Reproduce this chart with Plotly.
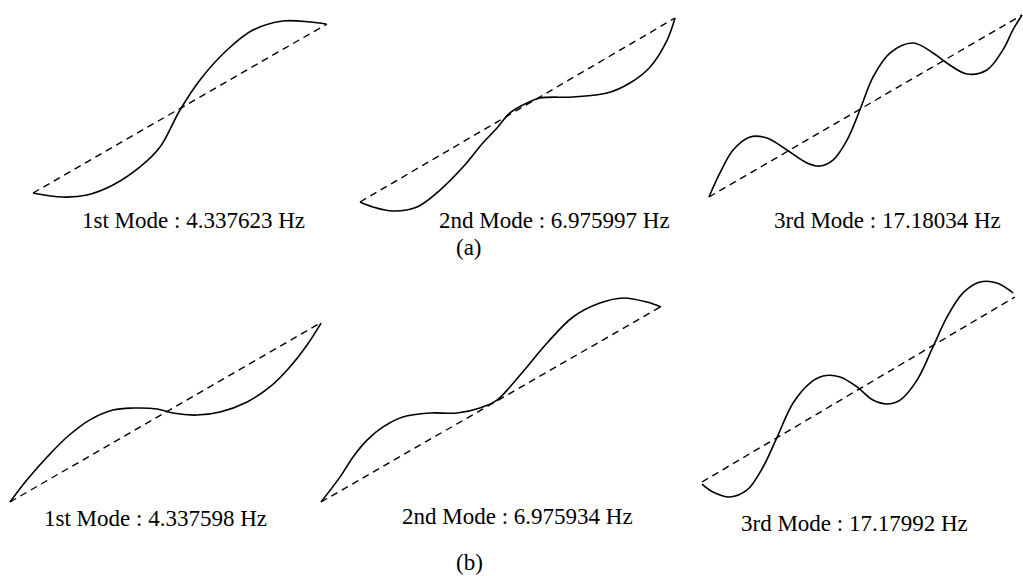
import plotly.graph_objects as go

W, H = 1023, 576

# ---- data: normalized mode shapes (position along beam 0..1, displacement) ----
# chord (dashed, undeformed) goes from (0,0) to (1,1) in each panel
chord_x = [0.0, 1.0]
chord_y = [0.0, 1.0]

a1_x = [0.0, 0.102, 0.184, 0.272, 0.364, 0.432, 0.5, 0.568, 0.66, 0.748, 0.85, 0.942, 0.997]
a1_y = [0.0, -0.024, -0.012, 0.047, 0.154, 0.272, 0.491, 0.669, 0.846, 0.964, 1.018, 1.012, 1.0]

a2_x = [0.0, 0.041, 0.105, 0.181, 0.254, 0.327, 0.390, 0.435, 0.476, 0.530, 0.571, 0.676, 0.784, 0.857, 0.921, 0.975, 1.0]
a2_y = [0.0, -0.027, -0.049, -0.027, 0.065, 0.190, 0.321, 0.402, 0.484, 0.538, 0.565, 0.571, 0.592, 0.647, 0.734, 0.880, 1.0]

a3_x = [0.0, 0.035, 0.077, 0.131, 0.185, 0.249, 0.313, 0.354, 0.396, 0.441, 0.482, 0.524, 0.578, 0.652, 0.716, 0.760, 0.824, 0.888, 0.939, 0.971, 1.0]
a3_y = [0.0, 0.132, 0.258, 0.330, 0.324, 0.258, 0.187, 0.170, 0.203, 0.313, 0.478, 0.659, 0.791, 0.846, 0.791, 0.736, 0.676, 0.698, 0.808, 0.918, 1.0]

b1_x = [0.0, 0.054, 0.119, 0.183, 0.256, 0.330, 0.394, 0.471, 0.522, 0.599, 0.673, 0.760, 0.833, 0.897, 0.952, 0.997]
b1_y = [0.0, 0.122, 0.250, 0.361, 0.456, 0.511, 0.522, 0.517, 0.494, 0.483, 0.500, 0.556, 0.639, 0.750, 0.872, 0.994]

b2_x = [0.0, 0.056, 0.094, 0.135, 0.182, 0.240, 0.320, 0.399, 0.466, 0.516, 0.554, 0.604, 0.663, 0.739, 0.818, 0.886, 0.956, 0.997]
b2_y = [0.0, 0.128, 0.230, 0.316, 0.383, 0.434, 0.454, 0.454, 0.480, 0.520, 0.587, 0.689, 0.811, 0.944, 1.015, 1.041, 1.020, 0.995]

b3_x = [0.0, 0.035, 0.089, 0.144, 0.195, 0.240, 0.291, 0.345, 0.387, 0.441, 0.495, 0.546, 0.591, 0.633, 0.687, 0.738, 0.783, 0.834, 0.888, 0.942, 0.994]
b3_y = [-0.011, -0.054, -0.081, -0.043, 0.081, 0.243, 0.427, 0.535, 0.573, 0.568, 0.514, 0.443, 0.422, 0.443, 0.551, 0.730, 0.892, 1.022, 1.081, 1.076, 1.022]

labels = [
    "1st Mode : 4.337623 Hz", "2nd Mode : 6.975997 Hz", "3rd Mode : 17.18034 Hz",
    "1st Mode : 4.337598 Hz", "2nd Mode : 6.975934 Hz", "3rd Mode : 17.17992 Hz",
]
group_labels = ["(a)", "(b)"]

# ---- layout: pixel frame of each panel's chord (x0, y0 bottom-left ; x1, y1 top-right) ----
frames = [
    (33, 193, 327, 24),
    (360, 202, 675, 18),
    (709, 197, 1022, 15),
    (10, 502, 322, 322),
    (321, 502, 662, 306),
    (702, 482, 1015, 297),
]
label_pos = [(193, 220), (554, 220), (887, 220), (155, 518), (517, 516), (854, 523)]
group_pos = [(469, 247), (469, 562)]

shapes = [(a1_x, a1_y), (a2_x, a2_y), (a3_x, a3_y), (b1_x, b1_y), (b2_x, b2_y), (b3_x, b3_y)]

fig = go.Figure()
layout_axes = {}
for i, ((sx, sy), (x0, y0, x1, y1)) in enumerate(zip(shapes, frames)):
    n = i + 1
    xa = "x" if n == 1 else f"x{n}"
    ya = "y" if n == 1 else f"y{n}"
    fig.add_trace(go.Scatter(x=chord_x, y=chord_y, mode="lines", xaxis=xa, yaxis=ya,
                             line=dict(color="black", width=1.4, dash="7px,5px"),
                             showlegend=False, hoverinfo="skip"))
    fig.add_trace(go.Scatter(x=sx, y=sy, mode="lines", xaxis=xa, yaxis=ya,
                             line=dict(color="black", width=1.6, shape="spline", smoothing=1.0),
                             showlegend=False, hoverinfo="skip"))
    w = x1 - x0
    h = y0 - y1
    xr = [-x0 / w, (W - x0) / w]
    yr = [(y0 - H) / h, y0 / h]
    kx = "xaxis" if n == 1 else f"xaxis{n}"
    ky = "yaxis" if n == 1 else f"yaxis{n}"
    layout_axes[kx] = dict(domain=[0, 1], range=xr, visible=False, fixedrange=True,
                           anchor=ya)
    layout_axes[ky] = dict(domain=[0, 1], range=yr, visible=False, fixedrange=True,
                           anchor=xa)
    if n > 1:
        layout_axes[kx]["overlaying"] = "x"
        layout_axes[ky]["overlaying"] = "y"

font = dict(family="Liberation Serif", size=23, color="black")
annotations = []
for txt, (px, py) in zip(labels + group_labels, label_pos + group_pos):
    annotations.append(dict(text=txt, x=px / W, y=1 - py / H, xref="paper", yref="paper",
                            showarrow=False, xanchor="center", yanchor="middle",
                            borderpad=0, font=font))

fig.update_layout(width=W, height=H, margin=dict(l=0, r=0, t=0, b=0),
                  paper_bgcolor="white", plot_bgcolor="white",
                  annotations=annotations, **layout_axes)
fig.write_html("out.html", config={"displayModeBar": False},
               post_script="document.body.style.margin='0px';document.body.style.overflow='hidden';")
